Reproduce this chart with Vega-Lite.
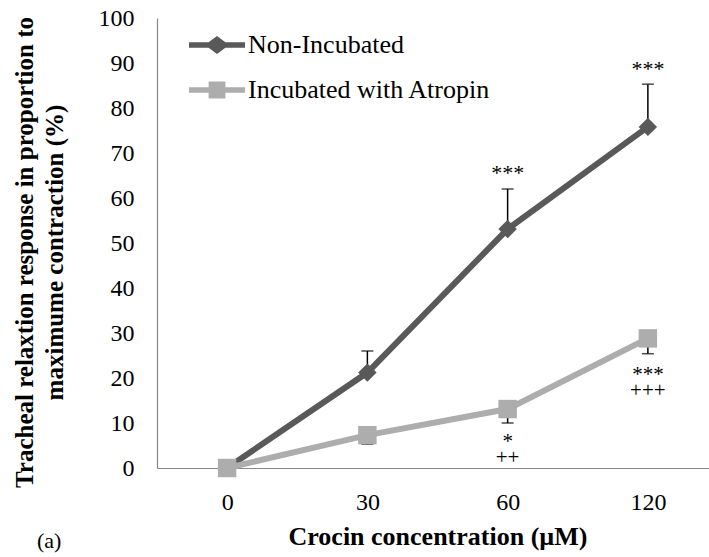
{
  "$schema": "https://vega.github.io/schema/vega-lite/v6.json",
  "autosize": "none",
  "width": 561,
  "height": 450,
  "padding": {"left": 157, "top": 18, "right": 0, "bottom": 90},
  "config": {
    "view": {"stroke": null},
    "font": "Liberation Serif",
    "axis": {"grid": false, "ticks": false, "domainColor": "#868686", "domainWidth": 1.2, "labelColor": "black", "titleColor": "black", "labelFont": "Liberation Serif", "titleFont": "Liberation Serif"}
  },
  "title": {"text": "(a)", "orient": "bottom", "anchor": "start", "frame": "group", "dx": -120, "offset": -18, "fontSize": 22, "fontWeight": "normal", "font": "Liberation Serif", "color": "black"},
  "datasets": {
    "means": [
      {"conc": "0", "series": "Non-Incubated", "value": 0},
      {"conc": "30", "series": "Non-Incubated", "value": 21.2},
      {"conc": "60", "series": "Non-Incubated", "value": 53.1},
      {"conc": "120", "series": "Non-Incubated", "value": 75.8},
      {"conc": "0", "series": "Incubated with Atropin", "value": 0},
      {"conc": "30", "series": "Incubated with Atropin", "value": 7.3},
      {"conc": "60", "series": "Incubated with Atropin", "value": 13.1},
      {"conc": "120", "series": "Incubated with Atropin", "value": 28.8}
    ],
    "errors": [
      {"conc": "30", "series": "Non-Incubated", "value": 21.2, "bound": 26.0},
      {"conc": "60", "series": "Non-Incubated", "value": 53.1, "bound": 62.0},
      {"conc": "120", "series": "Non-Incubated", "value": 75.8, "bound": 85.3},
      {"conc": "30", "series": "Incubated with Atropin", "value": 7.3, "bound": 5.3},
      {"conc": "60", "series": "Incubated with Atropin", "value": 13.1, "bound": 10.0},
      {"conc": "120", "series": "Incubated with Atropin", "value": 28.8, "bound": 25.4}
    ],
    "stars": [
      {"conc": "60", "pos": 66.6, "label": "***"},
      {"conc": "120", "pos": 89.8, "label": "***"}
    ],
    "below": [
      {"conc": "120", "pos": 19.3, "label": ["***", "+++"]},
      {"conc": "60", "pos": 4.4, "label": ["*", "++"]}
    ]
  },
  "encoding": {
    "x": {
      "field": "conc", "type": "nominal", "sort": ["0", "30", "60", "120"],
      "scale": {"type": "point", "padding": 0.5},
      "axis": {"title": "Crocin concentration (µM)", "labelAngle": 0, "labelFontSize": 24, "labelPadding": 22, "titleFontSize": 26, "titleFontWeight": "bold", "titlePadding": 9}
    }
  },
  "layer": [
    {
      "data": {"name": "means"},
      "mark": {"type": "line", "strokeWidth": 6},
      "encoding": {
        "y": {
          "field": "value", "type": "quantitative",
          "scale": {"domain": [0, 100], "nice": false, "zero": true},
          "axis": {
            "title": ["Tracheal relaxtion response in proportion to", "maximume contraction (%)"],
            "values": [0, 10, 20, 30, 40, 50, 60, 70, 80, 90, 100],
            "labelFontSize": 24, "labelPadding": 23,
            "titleFontSize": 25, "titleFontWeight": "bold", "titlePadding": 31, "titleLineHeight": 30, "titleY": 234
          }
        },
        "color": {
          "field": "series", "type": "nominal",
          "scale": {"domain": ["Non-Incubated", "Incubated with Atropin"], "range": ["#595959", "#adadad"]},
          "legend": {
            "orient": "none", "legendX": 32, "legendY": -1, "title": null,
            "labelFont": "Liberation Serif", "labelFontSize": 26, "labelColor": "black", "labelLimit": 400,
            "symbolSize": 3136, "labelOffset": 3, "rowPadding": 4,
            "encode": {
              "symbols": {
                "update": {
                  "shape": {"signal": "datum.value === 'Non-Incubated' ? 'M-1,-0.1L-0.3,-0.1L0,-0.32L0.3,-0.1L1,-0.1L1,0.1L0.3,0.1L0,0.32L-0.3,0.1L-1,0.1Z' : 'M-1,-0.1L-0.3,-0.1L-0.3,-0.3L0.3,-0.3L0.3,-0.1L1,-0.1L1,0.1L0.3,0.1L0.3,0.3L-0.3,0.3L-0.3,0.1L-1,0.1Z'"},
                  "fill": {"scale": "color", "field": "value"},
                  "stroke": {"value": "transparent"},
                  "strokeWidth": {"value": 0},
                  "opacity": {"value": 1},
                  "fillOpacity": {"value": 1}
                }
              }
            }
          }
        }
      }
    },
    {
      "data": {"name": "errors"},
      "mark": {"type": "rule", "color": "black", "strokeWidth": 1.5},
      "encoding": {
        "y": {"field": "value", "type": "quantitative"},
        "y2": {"field": "bound"}
      }
    },
    {
      "data": {"name": "errors"},
      "mark": {"type": "tick", "color": "black", "thickness": 1.5, "size": 12, "orient": "horizontal"},
      "encoding": {
        "y": {"field": "bound", "type": "quantitative"}
      }
    },
    {
      "data": {"name": "means"},
      "transform": [{"filter": "datum.series === 'Non-Incubated'"}],
      "mark": {"type": "point", "filled": true, "opacity": 1, "size": 340, "shape": "diamond", "color": "#595959"},
      "encoding": {
        "y": {"field": "value", "type": "quantitative"}
      }
    },
    {
      "data": {"name": "means"},
      "transform": [{"filter": "datum.series === 'Incubated with Atropin'"}],
      "mark": {"type": "point", "filled": true, "opacity": 1, "size": 340, "shape": "square", "color": "#adadad"},
      "encoding": {
        "y": {"field": "value", "type": "quantitative"}
      }
    },
    {
      "data": {"name": "stars"},
      "mark": {"type": "text", "font": "Liberation Serif", "fontSize": 22, "baseline": "middle", "align": "center", "color": "black", "dy": 5},
      "encoding": {
        "y": {"field": "pos", "type": "quantitative"},
        "text": {"field": "label"}
      }
    },
    {
      "data": {"name": "below"},
      "mark": {"type": "text", "font": "Liberation Serif", "fontSize": 21, "lineHeight": 15.5, "baseline": "alphabetic", "align": "center", "color": "black"},
      "encoding": {
        "y": {"field": "pos", "type": "quantitative"},
        "text": {"field": "label"}
      }
    }
  ]
}
